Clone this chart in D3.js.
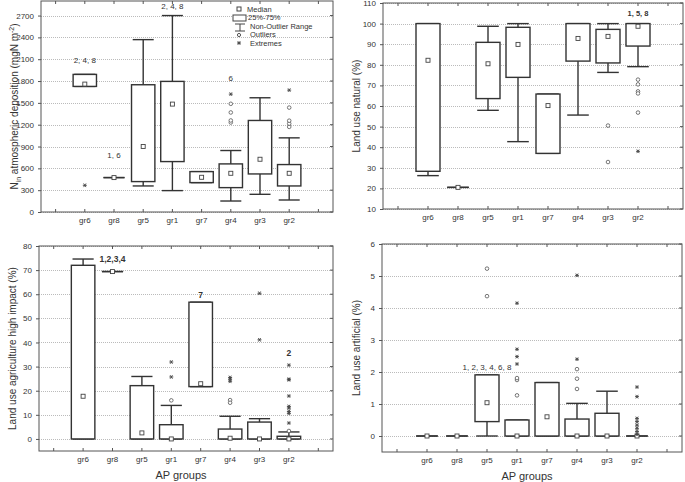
<!DOCTYPE html>
<html>
<head>
<meta charset="utf-8">
<script src="https://cdn.jsdelivr.net/npm/d3@7"></script>
<style>
  body { margin: 0; background: #fff; }
  text { font-family: "Liberation Sans", Arial, sans-serif; fill: #333; }
</style>
</head>
<body>
<svg id="chart" width="685" height="482"></svg>
<script>
var groups = ["gr6", "gr8", "gr5", "gr1", "gr7", "gr4", "gr3", "gr2"];

// N input atmospheric deposition
var depLo  = [1726, 473, 358, 294, 404, 151, 243, 165];
var depQ1  = [1726, 473, 418, 693, 404, 335, 523, 358];
var depMed = [1758, 473, 900, 1483, 477, 532, 725, 532];
var depQ3  = [1891, 473, 1749, 1795, 555, 661, 1258, 652];
var depHi  = [1891, 473, 2369, 2700, 555, 845, 1570, 1019];
var depOut = [[], [], [], [], [], [1230, 1258, 1368, 1487], [], [1170, 1215, 1255, 1435]];
var depExt = [[367], [], [], [], [], [1620], [], [1675]];
var depNotes = [["gr6", 2050, "2, 4, 8"], ["gr8", 740, "1, 6"], ["gr1", 2790, "2, 4, 8"], ["gr4", 1800, "6"]];

// land use natural
var natLo  = [26.2, 20.5, 57.9, 42.7, 37.0, 55.6, 76.3, 79.1];
var natQ1  = [28.3, 20.5, 63.6, 73.9, 37.0, 81.8, 80.9, 89.1];
var natMed = [82.2, 20.5, 80.5, 89.9, 60.2, 92.8, 93.8, 98.7];
var natQ3  = [100, 20.5, 90.9, 98.2, 65.8, 100, 97.2, 100];
var natHi  = [100, 20.5, 98.7, 100, 65.8, 100, 100, 100];
var natOut = [[], [], [], [], [], [], [50.5, 32.8], [72.8, 70.5, 67.1, 66.1, 56.8]];
var natExt = [[], [], [], [], [], [], [], [38.0]];
var natNotes = [["gr2", 103.6, "1, 5, 8"]];

// land use agriculture high impact
var agrLo  = [0, 69.4, 0, 0, 21.7, 0, 0, 0];
var agrQ1  = [0, 69.4, 0, 0, 21.7, 0, 0, 0];
var agrMed = [17.7, 69.4, 2.5, 0, 22.9, 0.3, 0, 0];
var agrQ3  = [72.0, 69.4, 22.1, 5.9, 56.7, 4.1, 7.0, 1.1];
var agrHi  = [74.6, 69.4, 25.9, 13.9, 56.7, 9.4, 8.4, 2.9];
var agrOut = [[], [], [], [16.0], [], [16.1, 15.0], [], [3.3]];
var agrExt = [[], [], [], [25.7, 31.9], [], [25.5, 24.8, 23.9], [60.4, 41.1],
              [30.6, 24.8, 24.5, 17.8, 13.5, 12.8, 11.4, 10.6, 6.6]];
var agrNotes = [["gr8", 73.2, "1,2,3,4"], ["gr7", 58.6, "7"], ["gr2", 34.3, "2"]];

// land use artificial
var artLo  = [0, 0, 0, 0, 0, 0, 0, 0];
var artQ1  = [0, 0, 0.45, 0, 0, 0, 0, 0];
var artMed = [0, 0, 1.04, 0, 0.6, 0, 0, 0];
var artQ3  = [0, 0, 1.91, 0.5, 1.67, 0.53, 0.71, 0];
var artHi  = [0, 0, 1.91, 0.5, 1.67, 1.02, 1.40, 0];
var artOut = [[], [], [4.37, 5.23], [1.27, 1.75, 1.81], [], [1.47, 1.79, 2.09], [], []];
var artExt = [[], [], [], [4.15, 2.71, 2.48, 2.25], [], [2.40, 5.02], [],
              [1.53, 1.23, 0.55, 0.45, 0.34, 0.24, 0.14, 0.05]];
var artNotes = [["gr5", 2.05, "1, 2, 3, 4, 6, 8"]];

var svg = d3.select("#chart");

function drawPanel(p)
{
  var g = svg.append("g");
  var x = d3.scaleLinear().domain([0, 10]).range([p.left, p.right]);
  var cx = function(i) { return x(i + 1.5); };
  var y = d3.scaleLinear().domain(p.domain).range([p.bottom, p.top]);
  var slot = x(1) - x(0), bw = slot * 0.8, cw = slot * 0.72;

  // grid
  g.selectAll(".grid").data(p.ticks).enter().append("line")
    .attr("x1", p.left).attr("x2", p.right)
    .attr("y1", function(d) { return Math.round(y(d)) + 0.5; })
    .attr("y2", function(d) { return Math.round(y(d)) + 0.5; })
    .attr("stroke", "#bbb").attr("stroke-dasharray", "1,1");

  // y axis
  var yAxis = d3.axisLeft(y).tickValues(p.ticks).tickFormat(d3.format("d")).tickSize(3).tickPadding(4);
  var ya = g.append("g").attr("transform", "translate(" + p.left + ",0)").call(yAxis);
  ya.select(".domain").remove();
  ya.selectAll("text").attr("font-size", 8).attr("font-family", "Liberation Sans, Arial, sans-serif").attr("fill", "#444");
  ya.selectAll("line").attr("stroke", "#555");

  // right ticks
  g.selectAll(".rt").data(p.ticks).enter().append("line")
    .attr("x1", p.right - 3).attr("x2", p.right)
    .attr("y1", function(d) { return y(d); }).attr("y2", function(d) { return y(d); })
    .attr("stroke", "#555");

  // x ticks top and bottom
  var xt = d3.range(0.5, 10, 1);
  g.selectAll(".bt").data(xt).enter().append("line")
    .attr("x1", function(d) { return x(d); }).attr("x2", function(d) { return x(d); })
    .attr("y1", p.bottom).attr("y2", p.bottom - 3).attr("stroke", "#555");
  g.selectAll(".tt").data(xt).enter().append("line")
    .attr("x1", function(d) { return x(d); }).attr("x2", function(d) { return x(d); })
    .attr("y1", p.top).attr("y2", p.top + 3).attr("stroke", "#555");

  // category labels
  g.selectAll(".cat").data(groups).enter().append("text")
    .attr("x", function(d, i) { return cx(i); })
    .attr("y", p.bottom + 11)
    .attr("text-anchor", "middle").attr("font-size", 8).attr("fill", "#444")
    .text(function(d) { return d; });

  // frame
  g.append("rect").attr("x", p.left).attr("y", p.top)
    .attr("width", p.right - p.left).attr("height", p.bottom - p.top)
    .attr("fill", "none").attr("stroke", "#555").attr("stroke-width", 1);

  var box = g.selectAll(".box").data(groups).enter().append("g");
  // whiskers
  box.append("line")
    .attr("x1", function(d, i) { return cx(i); }).attr("x2", function(d, i) { return cx(i); })
    .attr("y1", function(d, i) { return y(p.hi[i]); }).attr("y2", function(d, i) { return y(p.q3[i]); })
    .attr("stroke", "#333").attr("stroke-width", 1.4);
  box.append("line")
    .attr("x1", function(d, i) { return cx(i); }).attr("x2", function(d, i) { return cx(i); })
    .attr("y1", function(d, i) { return y(p.lo[i]); }).attr("y2", function(d, i) { return y(p.q1[i]); })
    .attr("stroke", "#333").attr("stroke-width", 1.4);
  box.append("line")
    .attr("x1", function(d, i) { return cx(i) - cw / 2; }).attr("x2", function(d, i) { return cx(i) + cw / 2; })
    .attr("y1", function(d, i) { return y(p.hi[i]); }).attr("y2", function(d, i) { return y(p.hi[i]); })
    .attr("stroke", "#333").attr("stroke-width", 1.4);
  box.append("line")
    .attr("x1", function(d, i) { return cx(i) - cw / 2; }).attr("x2", function(d, i) { return cx(i) + cw / 2; })
    .attr("y1", function(d, i) { return y(p.lo[i]); }).attr("y2", function(d, i) { return y(p.lo[i]); })
    .attr("stroke", "#333").attr("stroke-width", 1.4);
  // box
  box.append("rect")
    .attr("x", function(d, i) { return cx(i) - bw / 2; })
    .attr("y", function(d, i) { return y(p.q3[i]); })
    .attr("width", bw)
    .attr("height", function(d, i) { return Math.max(0, y(p.q1[i]) - y(p.q3[i])); })
    .attr("fill", "#fff").attr("stroke", "#333").attr("stroke-width", 1.4);

  // outliers and extremes
  groups.forEach(function(gname, i)
  {
    g.selectAll(".o" + i).data(p.out[i]).enter().append("circle")
      .attr("cx", cx(i)).attr("cy", function(d) { return y(d); })
      .attr("r", 1.8).attr("fill", "#fff").attr("stroke", "#555").attr("stroke-width", 0.8);
    g.selectAll(".e" + i).data(p.ext[i]).enter().append("path")
      .attr("transform", function(d) { return "translate(" + cx(i) + "," + y(d) + ")"; })
      .attr("d", "M-2,0H2M-1.2,-1.8L1.2,1.8M1.2,-1.8L-1.2,1.8")
      .attr("stroke", "#444").attr("stroke-width", 0.9);
  });

  // medians
  box.append("rect")
    .attr("x", function(d, i) { return cx(i) - 2; })
    .attr("y", function(d, i) { return y(p.med[i]) - 2; })
    .attr("width", 4).attr("height", 4)
    .attr("fill", "#fff").attr("stroke", "#444").attr("stroke-width", 0.9);

  // notes
  g.selectAll(".note").data(p.notes).enter().append("text")
    .attr("x", function(d) { return cx(groups.indexOf(d[0])); })
    .attr("y", function(d) { return y(d[1]); })
    .attr("text-anchor", "middle").attr("font-size", p.noteSize || 8)
    .attr("font-weight", p.noteBold ? "bold" : "normal").attr("fill", "#444")
    .text(function(d) { return d[2]; });

  // y title
  var yt = g.append("text")
    .attr("transform", "translate(" + p.ytx + "," + ((p.top + p.bottom) / 2) + ") rotate(-90)")
    .attr("text-anchor", "middle").attr("font-size", 10).attr("fill", "#333");
  if (p.ysub)
  {
    yt.append("tspan").text("N");
    yt.append("tspan").attr("font-size", 7).attr("dy", 3).text("in");
    yt.append("tspan").attr("dy", -3).text(" atmospheric deposition (mgN m");
    yt.append("tspan").attr("font-size", 7).attr("dy", -4).text("-2");
    yt.append("tspan").attr("dy", 4).text(")");
  }
  else yt.text(p.ytitle);

  if (p.xtitle)
  {
    g.append("text").attr("x", (p.left + p.right) / 2 - 5).attr("y", p.bottom + 28)
      .attr("text-anchor", "middle").attr("font-size", 11).attr("fill", "#333").text(p.xtitle);
  }
}

drawPanel({ left: 41, right: 333, top: 1, bottom: 212, domain: [0, 2900],
  ticks: d3.range(0, 2701, 300), lo: depLo, q1: depQ1, med: depMed, q3: depQ3, hi: depHi,
  out: depOut, ext: depExt, notes: depNotes, ytx: 18, ysub: true });

drawPanel({ left: 383, right: 683, top: 3, bottom: 209, domain: [10, 110],
  ticks: d3.range(10, 111, 10), lo: natLo, q1: natQ1, med: natMed, q3: natQ3, hi: natHi,
  out: natOut, ext: natExt, notes: natNotes, noteBold: true, noteSize: 7.5, ytx: 360,
  ytitle: "Land use natural (%)" });

drawPanel({ left: 39, right: 333, top: 246, bottom: 451, domain: [-5, 80],
  ticks: d3.range(0, 81, 10), lo: agrLo, q1: agrQ1, med: agrMed, q3: agrQ3, hi: agrHi,
  out: agrOut, ext: agrExt, notes: agrNotes, noteBold: true, noteSize: 8.5, ytx: 16,
  ytitle: "Land use agriculture high impact (%)", xtitle: "AP groups" });

drawPanel({ left: 382, right: 682, top: 244, bottom: 452, domain: [-0.5, 6],
  ticks: d3.range(0, 7, 1), lo: artLo, q1: artQ1, med: artMed, q3: artQ3, hi: artHi,
  out: artOut, ext: artExt, notes: artNotes, ytx: 360,
  ytitle: "Land use artificial (%)", xtitle: "AP groups" });

// legend in first panel
var lg = svg.append("g").attr("transform", "translate(239,0)");
lg.append("rect").attr("x", -2).attr("y", 7).attr("width", 4).attr("height", 4)
  .attr("fill", "#fff").attr("stroke", "#444");
lg.append("rect").attr("x", -6).attr("y", 15).attr("width", 13).attr("height", 6)
  .attr("fill", "#fff").attr("stroke", "#444");
lg.append("path").attr("d", "M-4,24H6M1,24V31M-4,31H6").attr("stroke", "#444").attr("fill", "none");
lg.append("circle").attr("cx", 0).attr("cy", 35).attr("r", 1.6).attr("fill", "#fff").attr("stroke", "#555");
lg.append("path").attr("transform", "translate(0,43)")
  .attr("d", "M-2,0H2M-1.2,-1.8L1.2,1.8M1.2,-1.8L-1.2,1.8").attr("stroke", "#444");
var legendText = [["Median", 8, 11.5], ["25%-75%", 9, 20], ["Non-Outlier Range", 11, 28.5], ["Outliers", 11, 37], ["Extremes", 11, 45.5]];
lg.selectAll(".lt").data(legendText).enter().append("text")
  .attr("x", function(d) { return d[1]; }).attr("y", function(d) { return d[2]; })
  .attr("font-size", 7.5).attr("fill", "#333").text(function(d) { return d[0]; });
</script>
</body>
</html>
